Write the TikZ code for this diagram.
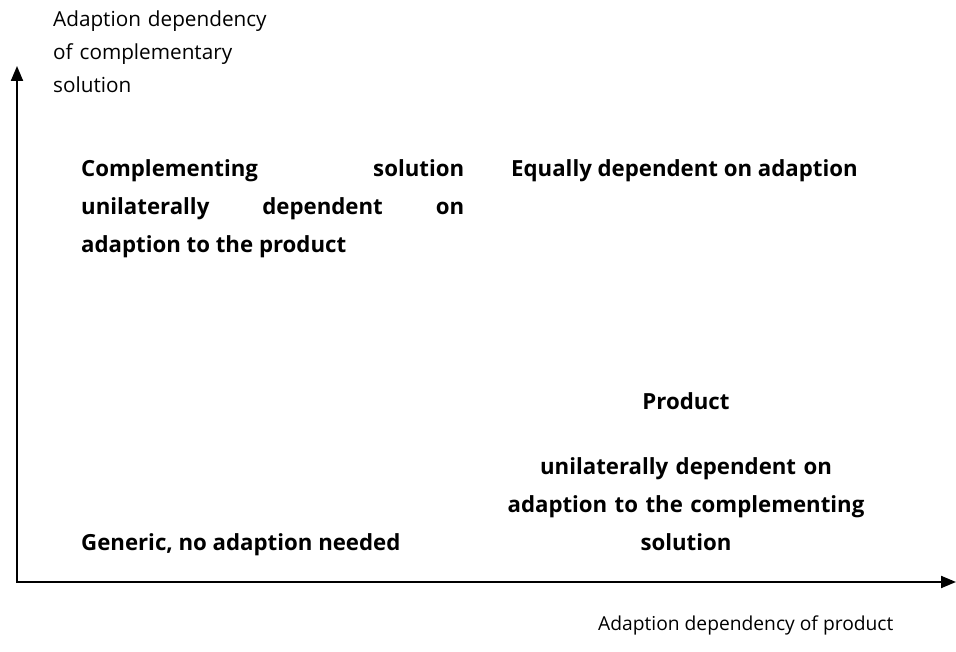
\documentclass[tikz,border=0pt]{standalone}
\usepackage{fontspec}
\setmainfont{Open Sans}
\usetikzlibrary{arrows.meta,positioning}

\begin{document}
\begin{tikzpicture}[x=1bp,y=1bp,
        axis/.style={line width=2bp,-{Triangle[length=15bp,width=12bp]}},
        axislabel/.style={font=\fontsize{20.8}{33}\selectfont,inner sep=0pt,align=left},
        quadlabel/.style={font=\fontsize{22.3}{38}\selectfont\bfseries,inner sep=0pt}]
        \useasboundingbox (0,0) rectangle (956,652);
        
        % Axes
        \coordinate (origin) at (17,70);
        \coordinate (ytop) at (17,586);
        \coordinate (xend) at (956,70);
        \draw[axis] (origin) -- (ytop);
        \draw[axis] ([xshift=-1bp]origin) -- (xend);
        
        % Axis labels
        \node[axislabel,text width=260bp,anchor=base west] (ylabel) at (53,625)
            {Adaption dependency\\of complementary\\solution};
        \node[axislabel,font=\fontsize{19.3}{33}\selectfont,anchor=base west] (xlabel) at (598,21)
            {Adaption dependency of product};
        
        % Quadrants
        \node[quadlabel,text width=383bp,align=justify,anchor=base west] (complonly) at (81,475)
            {Complementing solution\linebreak unilaterally dependent on\linebreak adaption to the product};
        \node[quadlabel,anchor=base west] (equal) at (511,475) {Equally dependent on adaption};
        \node[quadlabel,anchor=base] (product) at (686,242) {Product};
        \node[quadlabel,text width=380bp,align=center,anchor=base] (prodonly) at (686,177)
            {unilaterally dependent on\\adaption to the complementing\\solution};
        \node[quadlabel,anchor=base west] (generic) at (81,101) {Generic, no adaption needed};
        
    \end{tikzpicture}
\end{document}
